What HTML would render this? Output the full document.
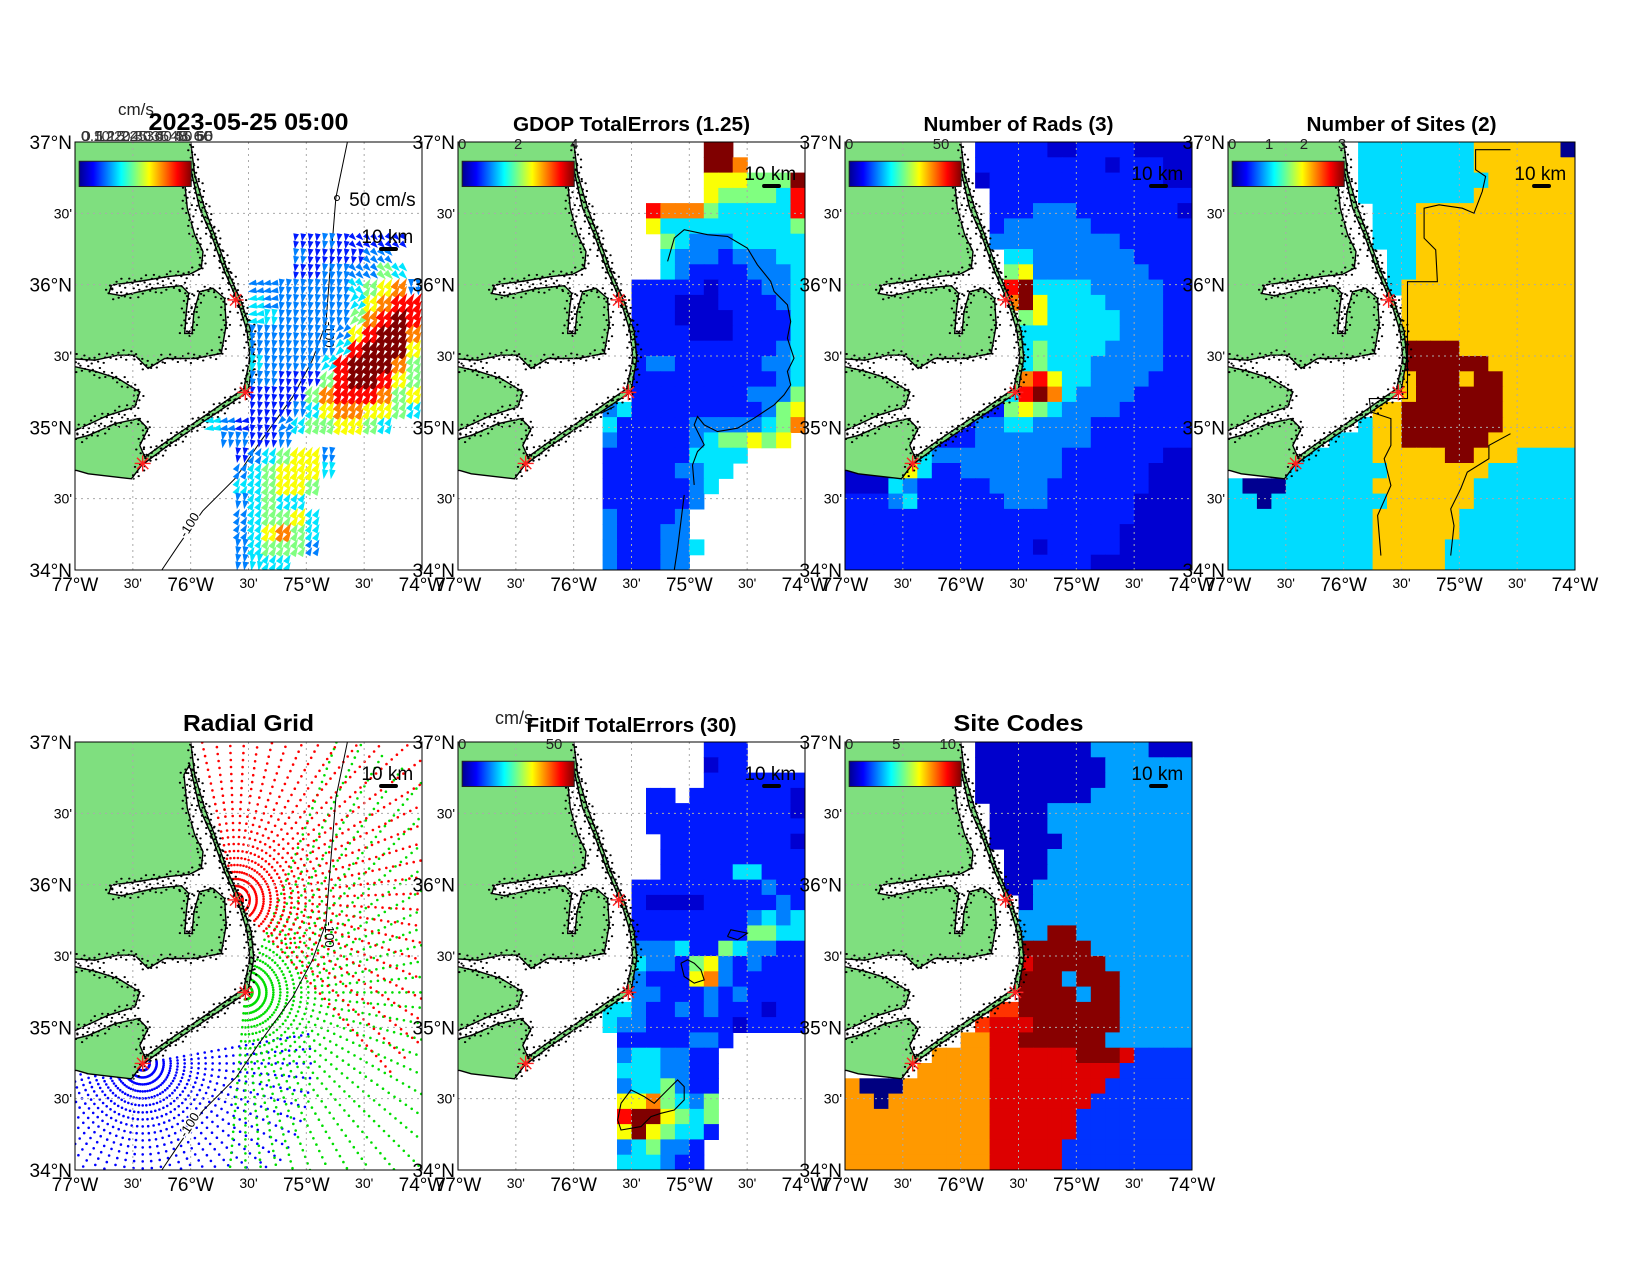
<!DOCTYPE html>
<html><head><meta charset="utf-8">
<style>
body{margin:0;background:#fff}
svg{display:block}
text{font-family:"Liberation Sans",Arial,sans-serif}
</style></head>
<body>
<svg id="fig" width="1650" height="1275" viewBox="0 0 1650 1275" xmlns="http://www.w3.org/2000/svg">
<defs>
<linearGradient id="jet" x1="0" x2="1" y1="0" y2="0">
<stop offset="0" stop-color="#00008f"/><stop offset="0.125" stop-color="#0000ff"/><stop offset="0.375" stop-color="#00ffff"/><stop offset="0.625" stop-color="#ffff00"/><stop offset="0.875" stop-color="#ff0000"/><stop offset="1" stop-color="#800000"/>
</linearGradient>
</defs>
</svg>
<script>
// ---------- DATA (level codes per grid cell, 24 cols x 28 rows; '.' = no data) ----------
const levelT={'0':0.0,'1':0.08,'2':0.15,'3':0.25,'4':0.35,'5':0.5,'6':0.62,'7':0.75,'8':0.87,'9':1.0};
const gdopRows=[
".................99.....",".................997....",".................6665559",".................6555548",
".............87775444448",".............64444444445","..............5433344444","..............4333233344",
"..............4322223334","............222221222334","............222111222234","............222111122224",
"............222211122224","............222222222234","............233222222334","............222222222234",
"............222222223335","..........34222222222356","..........42222233333457","..........3222223455656.",
"..........2222224444....","..........222223344.....","..........22222234......","..........2222223.......",
"..........322223........","..........322233........","..........3222334.......","..........322233........"];
const radsRows=[
".........222221122221111",".........222222222122211",".........122222222222211","..........22222222222222",
"..........22233322222221","..........23333332222222","..........33333333322222","...........4433333332222",
"...........5633333333222","...........8944443333322","...........7964444333322","............564444433322",
"............444444433322","............454444333322","............454443333322","............786443333222",
"...........4897433332222",".........225654333322222","......222334433332222222",".....2222333333332222222",
"....54333333333222222211","111164223333333222222111","111432222233332222222111","222342222223332222221111",
"222222222222222222221111","222222222222222222211111","222222222222212222211111","222222222222222221111111"];
const sitesRows=[
".........111111112222220",".........111111112222222",".........111111111222222",".........111111112222222",
"..........11122222222222","..........11122222222222","..........11122222222222","...........1122222222222",
"...........1122222222222","...........1222222222222","............222222222222","............222222222222",
"............222222222222","............333322222222","............333333222222","............233323322222",
"............233333322222","..........22333333322222",".........122333333322222",".......11122333333222222",
".....1111122222332221111","....11111112222222111111","100011111122222221111111","110111111112222221111111",
"111111111122222211111111","111111111122222211111111","111111111122222111111111","111111111122222111111111"];
const sitesColors={'0':'#000090','1':'#00dcff','2':'#ffcc00','3':'#800000'};
const fitRows=[
".................222....",".................122....",".................2222222",".............22.22222221",
".............22222222221",".............22222222222","..............2222222221","..............2222222222",
"..............2222244222","............222222222322","............211112222232","............222222223434",
"............222222225544","............333422543322","............433256323222","............322267322222",
"............332223232222","..........44322323222122","..........43322222212222","...........22222332......",
"...........3443322......","...........4443322......","...........3445322......","...........6675435......",
"...........8996545......","...........6965442......","...........345332.......","...........444322......."];
const codeRows=[
".........AAAAAAAABBBBAAA",".........AAAAAAAAABBBBBB",".........AAAAAAAAABBBBBB",".........AAAAAAAABBBBBBB",
"..........AAAABBBBBBBBBB","..........AAAABBBBBBBBBB","..........AAAAABBBBBBBBB","...........AAABBBBBBBBBB",
"...........AAABBBBBBBBBB","...........AABBBBBBBBBBB","............ABBBBBBBBBBB","............BBBBBBBBBBBB",
"............BBCCBBBBBBBB","............CCCCCBBBBBBB","............DCCCCCBBBBBB","............CCCBCCCBBBBB",
"............CCCCBCCBBBBB","..........EECCCCCCCBBBBB",".........EDDDCCCCCCBBBBB","........FFDDCCCCCCBBBBBB",
"......FFFFDDDDDDCCCDGGGG",".....FFFFFDDDDDDDDDGGGGG","FHHHFFFFFFDDDDDDDDGGGGGG","FFHFFFFFFFDDDDDDDGGGGGGG",
"FFFFFFFFFFDDDDDDGGGGGGGG","FFFFFFFFFFDDDDDDGGGGGGGG","FFFFFFFFFFDDDDDGGGGGGGGG","FFFFFFFFFFDDDDDGGGGGGGGG"];
const codeColors={A:'#0000cc',B:'#00a0ff',C:'#880000',D:'#dd0000',E:'#ff3300',F:'#ff9900',G:'#0033ff',H:'#000080'};
const vecSpeedRows=[
"........................","........................","........................","........................",
"........................","........................","...............22322222.","...............3222233..",
"...............22333354.","............333333345673","............433333346788","............443333357898",
"............333333368997","............333333489996","............433334899975","............332225899865",
"............222257888756","............222346776654",".........4322234556654..","..........33223.........",
"...........2345663......","...........3456664......","...........445665.......","...........34544........",
"...........345564.......","...........346754.......","...........345553.......","...........3444........."];
const vecDirRows=[
"........................","........................","........................","........................",
"........................","........................","...............SSSSbbbb.","...............SSSSSbb..",
"...............SSSSbbbb.","............WWSSSSSbaaaN","............WWSSSSScaaaa","............WSSSSSScaaaa",
"............SSSSSScaaaaa","............SSSSSScaaaaa","............SSSSScaaaaaa","............SSSSSaaaaaaa",
"............SSSSaaaaaaaa","............SSSSaaaaaaaa",".........WWWSScaaaaaaa..","..........SSSSS.........",
"...........SaaaaaS......","...........aaaaaaS......","...........aaaaaa.......","...........Saaaa........",
"...........aaaaaa.......","...........aaaaaa.......","...........Saaaaa.......","...........SSaa........."];
const dirDeg={N:0,a:30,E:90,b:135,S:190,c:225,W:260,d:315};
// radial grid: draw order blue, green, red
const radialOrder=[2,1,0];
const radialColors=['#ff0000','#00dd00','#0000ff'];
const bearingStart=[-12,20,80];
const bearingEnd=[140,185,325];
const rangeMaxPx=[235,275,170];
const bearingStep=5;
const rangeStepPx=7;
const siteFrac=[[0.463,0.369],[0.491,0.585],[0.195,0.751]];
const lonTicks=[-77,-76.5,-76,-75.5,-75,-74.5,-74];
const lonLabels=["77°W","30'","76°W","30'","75°W","30'","74°W"];
const latTicks=[37,36.5,36,35.5,35,34.5,34];
const latLabels=["37°N","30'","36°N","30'","35°N","30'","34°N"];

// ---------- GEOMETRY ----------
const landGreen=[[150,0],[548,0],[548,52],[560,150],[590,250],[620,330],[660,440],[700,530],[730,620],[738,700],[720,800],[600,880],[480,960],[400,1020],[370,1060],[240,1045],[205,1035],[150,1035]];
const soundWhite=[[545,120],[575,250],[610,330],[650,440],[690,530],[718,620],[726,700],[708,790],[600,865],[480,945],[410,995],[395,960],[420,910],[390,880],[320,895],[240,930],[180,945],[180,925],[300,870],[380,845],[395,800],[330,760],[260,738],[180,720],[180,700],[260,705],[330,690],[380,690],[420,730],[470,700],[560,700],[640,685],[655,600],[650,520],[615,490],[575,500],[558,560],[552,625],[530,625],[535,560],[542,505],[520,482],[440,490],[340,512],[302,505],[310,480],[400,468],[480,455],[545,448],[580,430],[585,380],[560,330],[538,250],[528,150]];
const bathy=[[0.785,0],[0.752,0.13],[0.735,0.3],[0.723,0.424],[0.684,0.51],[0.627,0.596],[0.53,0.705],[0.464,0.784],[0.368,0.862],[0.30,0.94],[0.25,1.0]];
const gdopContours=[[[640,470],[660,400],[690,375],[760,390],[820,395],[880,430],[910,480],[950,530],[960,560],[1000,600],[1010,650],[1000,700],[1020,760],[1000,800],[1010,840],[990,870],[960,900],[900,940],[850,970],[790,980],[750,960],[730,935],[720,960],[740,1000],[750,1020],[730,1040],[715,1080],[720,1140]],[[690,1170],[680,1250],[670,1330],[660,1395]],[[440,925],[480,905]]];
const sitesContours=[[[1050,75],[945,75],[945,135],[975,155],[965,200],[940,265],[905,250],[835,240],[790,250],[790,340],[825,375],[830,470],[740,470],[740,560],[740,820],[625,820],[630,860],[690,880],[690,960],[670,1000],[690,1080],[650,1170],[660,1290]],[[1050,925],[985,960],[985,1000],[920,1040],[900,1090],[870,1150],[880,1200],[870,1290]]];
const fitContours=[[[680,790],[700,780],[720,790],[740,810],[750,840],[720,850],[690,830],[680,790]],[[820,710],[830,690],[880,700],[850,720],[820,710]],[[500,1210],[530,1170],[570,1190],[600,1210],[640,1170],[670,1140],[690,1160],[690,1200],[660,1230],[620,1240],[590,1250],[560,1280],[500,1290],[490,1260],[500,1210]]];
const stippleOffsets=[-4,1,-1.5,3.5,0,-2.5,2,-5,4.5,-0.5];

const NS='http://www.w3.org/2000/svg';
const svg=document.getElementById('fig');
function mk(tag,attrs,parent){const e=document.createElementNS(NS,tag);for(const k in attrs)e.setAttribute(k,attrs[k]);parent.appendChild(e);return e;}
function jet(t){const c=v=>Math.round(255*Math.max(0,Math.min(1,v)));return 'rgb('+c(1.5-Math.abs(4*t-3))+','+c(1.5-Math.abs(4*t-2))+','+c(1.5-Math.abs(4*t-1))+')';}

const W=347,H=428;
const panels=[
 {id:'currents',x0:75,y0:142},{id:'gdop',x0:458,y0:142},{id:'rads',x0:845,y0:142},{id:'sites',x0:1228,y0:142},
 {id:'radial',x0:75,y0:742},{id:'fitdif',x0:458,y0:742},{id:'codes',x0:845,y0:742}];
panels.forEach(p=>{p.w=W;p.h=H;});
const colX=(p,c)=>p.x0+c*p.w/24;
const rowY=(p,r)=>p.y0+r*p.h/28;
const fX=(p,f)=>p.x0+f*p.w;
const fY=(p,f)=>p.y0+f*p.h;
const lonX=(p,lon)=>p.x0+(lon+77)/3*p.w;
const latY=(p,lat)=>p.y0+(37-lat)/3*p.h;

function panelGroup(p){
  const cp=mk('clipPath',{id:'clip-'+p.id},svg);
  mk('rect',{x:p.x0,y:p.y0,width:p.w,height:p.h},cp);
  const g=mk('g',{'clip-path':'url(#clip-'+p.id+')'},svg);
  
  
  return g;
}
function heat(p,g,rows,colorFn,name){
  for(let r=0;r<28;r++){const row=(rows[r]||'').padEnd(24,'.');
    for(let c=0;c<24;c++){const ch=row[c];if(ch==='.')continue;
      const e=mk('rect',{x:colX(p,c).toFixed(1),y:rowY(p,r).toFixed(1),width:(p.w/24+0.6).toFixed(1),height:(p.h/28+0.6).toFixed(1),fill:colorFn(ch)},g);
      
      
    }}
}
function zxy(p,arr,ox,oy,sx,sy){return arr.map(([a,b])=>[p.x0+(a-ox)/sx*p.w,p.y0+(b-oy)/sy*p.h]);}
function zpts(p,arr,ox,oy,sx,sy){return zxy(p,arr,ox,oy,sx,sy).map(([x,y])=>x.toFixed(1)+','+y.toFixed(1)).join(' ');}
function stipplePath(pts,closed){
  let d='',k=0;const n=pts.length;
  for(let i=0;i<(closed?n:n-1);i++){const [x1,y1]=pts[i],[x2,y2]=pts[(i+1)%n];
    const L=Math.hypot(x2-x1,y2-y1);if(L<0.1)continue;const nx=-(y2-y1)/L,ny=(x2-x1)/L;
    for(let s=0;s<L;s+=2.6){const o=stippleOffsets[k++%stippleOffsets.length];
      const x=x1+(x2-x1)*s/L+nx*o,y=y1+(y2-y1)*s/L+ny*o;d+='M'+x.toFixed(1)+' '+y.toFixed(1)+'h0.4';}}
  return d;
}
function land(p,g){
  const gxy=zxy(p,landGreen,200,52,1044,1281),wxy=zxy(p,soundWhite,200,52,1044,1281);
  const gr=mk('polygon',{points:zpts(p,landGreen,200,52,1044,1281),fill:'#7fdf7f',stroke:'#000','stroke-width':1.4},g);
  
  
  const sw=mk('polygon',{points:zpts(p,soundWhite,200,52,1044,1281),fill:'#fff',stroke:'#000','stroke-width':1.4},g);
  
  
  const st=mk('path',{d:stipplePath(wxy,true)+stipplePath(gxy.slice(2,15),false),fill:'none',stroke:'#000','stroke-width':2,'stroke-linecap':'round'},g);
  
  
}
function grid(p,g){
  for(const lon of [-76.5,-76,-75.5,-75,-74.5]){const x=lonX(p,lon);
    const l=mk('line',{x1:x,y1:p.y0,x2:x,y2:p.y0+p.h,stroke:'#aaa','stroke-width':1,'stroke-dasharray':'2,4'},g);
    
    }
  for(const lat of [36.5,36,35.5,35,34.5]){const y=latY(p,lat);
    const l=mk('line',{x1:p.x0,y1:y,x2:p.x0+p.w,y2:y,stroke:'#aaa','stroke-width':1,'stroke-dasharray':'2,4'},g);
    
    }
}
function contours(p,g,list,ox,oy,sx,sy,name){
  list.forEach(arr=>{const l=mk('polyline',{points:zpts(p,arr,ox,oy,sx,sy),fill:'none',stroke:'#000','stroke-width':1.1},g);
    
    });
}
function bathyLine(p,g){
  const l=mk('polyline',{points:bathy.map(([a,b])=>fX(p,a).toFixed(1)+','+fY(p,b).toFixed(1)).join(' '),fill:'none',stroke:'#000','stroke-width':1},g);
  
  
  const t1=mk('text',{x:fX(p,0.72),y:fY(p,0.45),'font-size':13,transform:'rotate(90 '+fX(p,0.72)+' '+fY(p,0.45)+')','text-anchor':'middle',fill:'#000'},g);
  t1.textContent='-100';
  
  
  const t2=mk('text',{x:fX(p,0.34),y:fY(p,0.9),'font-size':13,transform:'rotate(-58 '+fX(p,0.34)+' '+fY(p,0.9)+')','text-anchor':'middle',fill:'#000',stroke:'#fff','stroke-width':3,'paint-order':'stroke'},g);
  t2.textContent='-100';
  
  
}
function stars(p,g){
  siteFrac.forEach(([a,b])=>{const cx=fX(p,a),cy=fY(p,b);
    const s=mk('g',{stroke:'#ff2020','stroke-width':1.4},g);
    
    
    for(let k=0;k<4;k++){const an=k*Math.PI/4,dx=8*Math.cos(an),dy=8*Math.sin(an);mk('line',{x1:cx-dx,y1:cy-dy,x2:cx+dx,y2:cy+dy},s);}
  });
}
function colorbar(p,labels,ts){
  const x=fX(p,0.012),y=fY(p,0.045),w=p.w*0.323,h=p.h*0.059;
  const r=mk('rect',{x:x,y:y,width:w,height:h,fill:'url(#jet)',stroke:'#222','stroke-width':1},svg);
  
  
  labels.forEach((lb,i)=>{const t=mk('text',{x:x+ts[i]*w,y:p.y0+7,'font-size':15,'text-anchor':'middle',fill:'#222'},svg);
    t.textContent=lb;
    
    });
}
function scaleBar(p,yText){
  const t=mk('text',{x:fX(p,0.9),y:p.y0+yText,'font-size':19,'text-anchor':'middle',fill:'#000'},svg);
  t.textContent='10 km';
  
  
  const b=mk('line',{x1:fX(p,0.882),y1:p.y0+yText+6,x2:fX(p,0.925),y2:p.y0+yText+6,stroke:'#000','stroke-width':4,'stroke-linecap':'round'},svg);
  
  
}
function frame(p){
  const r=mk('rect',{x:p.x0,y:p.y0,width:p.w,height:p.h,fill:'none',stroke:'#000','stroke-width':1},svg);
  
  
  lonTicks.forEach((lon,i)=>{const big=lonLabels[i].length>3;
    const t=mk('text',{x:lonX(p,lon),y:p.y0+p.h+(big?21:18),'font-size':big?19:14,'text-anchor':'middle',fill:'#000'},svg);
    t.textContent=lonLabels[i];
    
    });
  latTicks.forEach((lat,i)=>{const big=latLabels[i].length>3;
    const t=mk('text',{x:p.x0-3,y:latY(p,lat)+(big?7:5),'font-size':big?19:14,'text-anchor':'end',fill:'#000'},svg);
    t.textContent=latLabels[i];
    
    });
}
function title(p,txt,y,size,len){
  const t=mk('text',{x:p.x0+p.w/2,y:y,'font-size':size,'font-weight':'bold','text-anchor':'middle',textLength:len,lengthAdjust:'spacingAndGlyphs',fill:'#000'},svg);
  t.textContent=txt;
  
  
}
const jetFn=ch=>jet(levelT[ch]);

// ---------- Panel 1: total currents ----------
{const p=panels[0],g=panelGroup(p);land(p,g);grid(p,g);bathyLine(p,g);
 for(let r=0;r<28;r++){const sr=vecSpeedRows[r].padEnd(24,'.'),dr=vecDirRows[r].padEnd(24,'.');
  for(let c=0;c<24;c++){if(sr[c]==='.')continue;const s=+sr[c];const ang=(dirDeg[dr[c]]||180)*Math.PI/180;
   const ux=Math.sin(ang),uy=-Math.cos(ang);const L=6+s*0.9,wd=2.6+0.15*s;
   for(let a=0;a<2;a++)for(let b=0;b<2;b++){
    const cx=colX(p,c+0.25+0.5*a),cy=rowY(p,r+0.25+0.5*b);
    const tx=cx+ux*L/2,ty=cy+uy*L/2,bx=cx-ux*L/2,by=cy-uy*L/2;
    const e=mk('polygon',{points:[tx,ty,bx-uy*wd,by+ux*wd,bx+uy*wd,by-ux*wd].map(v=>v.toFixed(1)).join(','),fill:jet(levelT[sr[c]])},g);
    
    
   }}}
 stars(p,g);frame(p);
 colorbar(p,[],[]);
 ['0 10 20 30 40 50 60','0.5 15 25 35 45 55','0 12 24 36 48 60'].forEach(s=>{const t=mk('text',{x:81,y:141,'font-size':15,textLength:132,lengthAdjust:'spacingAndGlyphs',fill:'#333'},svg);
   t.textContent=s;
   
   });
 const u=mk('text',{x:118,y:115,'font-size':17,fill:'#222'},svg);u.textContent='cm/s';
 
 
 title(p,'2023-05-25 05:00',130,24,200);
 const ref=mk('text',{x:fX(p,0.79),y:p.y0+64,'font-size':19,fill:'#000'},svg);ref.textContent='50 cm/s';
 
 
 const ci=mk('circle',{cx:fX(p,0.755),cy:p.y0+56,r:2.5,fill:'none',stroke:'#000'},svg);
 
 
 scaleBar(p,101);}

// ---------- Panel 2: GDOP ----------
{const p=panels[1],g=panelGroup(p);heat(p,g,gdopRows,jetFn,'gdop');land(p,g);grid(p,g);
 contours(p,g,gdopContours,10,112,1043,1283,'gdop-1.25-contour');stars(p,g);frame(p);
 colorbar(p,['0','2','4'],[0,0.5,1]);title(p,'GDOP TotalErrors (1.25)',131,20,237);scaleBar(p,38);}

// ---------- Panel 3: Number of rads ----------
{const p=panels[2],g=panelGroup(p);heat(p,g,radsRows,jetFn,'rads');land(p,g);grid(p,g);stars(p,g);frame(p);
 colorbar(p,['0','50'],[0,0.82]);title(p,'Number of Rads (3)',131,20,190);scaleBar(p,38);}

// ---------- Panel 4: Number of sites ----------
{const p=panels[3],g=panelGroup(p);heat(p,g,sitesRows,ch=>sitesColors[ch],'sites');land(p,g);grid(p,g);
 contours(p,g,sitesContours,200,52,1044,1281,'sites-2-contour');stars(p,g);frame(p);
 colorbar(p,['0','1','2','3'],[0,0.33,0.64,0.98]);title(p,'Number of Sites (2)',131,20,190);scaleBar(p,38);}

// ---------- Panel 5: Radial grid ----------
{const p=panels[4],g=panelGroup(p);
 const sp=siteFrac.map(([a,b])=>[fX(p,a),fY(p,b)]);
 radialOrder.forEach(s=>{
  for(let bdeg=bearingStart[s];bdeg<=bearingEnd[s];bdeg+=bearingStep){const an=bdeg*Math.PI/180;
   for(let rr=rangeStepPx;rr<=rangeMaxPx[s];rr+=rangeStepPx){
    const x=sp[s][0]+rr*Math.sin(an),y=sp[s][1]-rr*Math.cos(an);
    if(x<p.x0||x>p.x0+p.w||y<p.y0||y>p.y0+p.h)continue;
    const d=mk('circle',{cx:x.toFixed(1),cy:y.toFixed(1),r:1.3,fill:radialColors[s]},g);
    
    
   }}});
 land(p,g);grid(p,g);bathyLine(p,g);stars(p,g);frame(p);
 title(p,'Radial Grid',731,23,131);scaleBar(p,38);}

// ---------- Panel 6: FitDif ----------
{const p=panels[5],g=panelGroup(p);heat(p,g,fitRows,jetFn,'fitdif');land(p,g);grid(p,g);
 contours(p,g,fitContours,10,127,1043,1283,'fitdif-30-contour');stars(p,g);frame(p);
 colorbar(p,['0','50'],[0,0.82]);
 const u=mk('text',{x:495,y:724,'font-size':18,fill:'#222'},svg);u.textContent='cm/s';
 
 
 title(p,'FitDif TotalErrors (30)',732,20,210);scaleBar(p,38);}

// ---------- Panel 7: Site codes ----------
{const p=panels[6],g=panelGroup(p);heat(p,g,codeRows,ch=>codeColors[ch],'site-code');land(p,g);grid(p,g);stars(p,g);frame(p);
 colorbar(p,['0','5','10'],[0,0.42,0.88]);title(p,'Site Codes',731,23,130);scaleBar(p,38);}
</script>
</body></html>
